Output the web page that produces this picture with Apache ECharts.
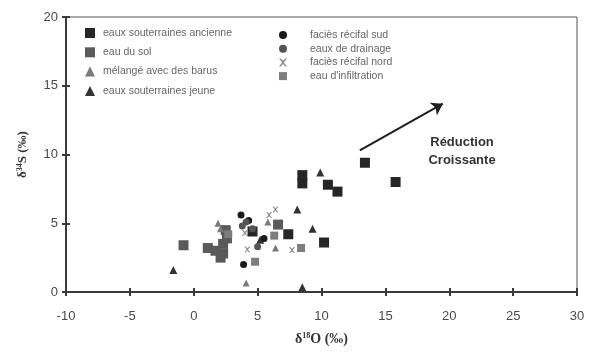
<!DOCTYPE html>
<html><head><meta charset="utf-8">
<script src="https://cdn.jsdelivr.net/npm/echarts@6/dist/echarts.min.js"></script>
<style>html,body{margin:0;padding:0;background:#fff}#c{width:590px;height:356px}</style>
</head><body><div id="c"></div>
<script>
// ---- data ----
const xTicks = [-10, -5, 0, 5, 10, 15, 20, 25, 30];
const yTicks = [0, 5, 10, 15, 20];
const ancienne = [[13.4,9.4],[15.8,8.0],[8.5,8.5],[8.5,7.9],[10.5,7.8],[11.25,7.3],[10.2,3.6],[7.4,4.2],[4.6,4.4]];
const eauSol = [[-0.8,3.4],[1.1,3.2],[1.7,3.0],[2.3,2.8],[2.1,2.5],[2.5,4.5],[2.6,3.9],[2.3,3.5],[6.6,4.9]];
const melange = [[1.9,5.0],[5.8,5.1],[6.4,3.2],[4.1,0.65],[2.1,4.6]];
const jeune = [[-1.6,1.6],[8.1,6.0],[9.3,4.6],[9.9,8.7],[8.5,0.35],[5.2,3.8]];
const recifSud = [[3.9,2.0],[3.7,5.6],[5.5,3.9],[4.3,5.2]];
const drainage = [[4.1,5.1],[5.0,3.3],[4.6,4.6],[3.8,4.8]];
const recifNord = [[4.2,3.1],[7.7,3.05],[6.4,6.0],[5.9,5.6],[4.0,4.3]];
const infiltration = [[6.3,4.1],[2.7,4.2],[4.8,2.2],[8.4,3.2]];
const arrowStart = [13.0, 10.3];
const arrowEnd = [19.5, 13.7];
const annotation = {text: 'Réduction\nCroissante', at: [21.0, 10.25]};
const names = ['eaux souterraines ancienne','eau du sol','mélangé avec des barus','eaux souterraines jeune',
  'faciès récifal sud','eaux de drainage','faciès récifal nord',"eau d'infiltration"];

const X_PATH = 'path://M0,0L2,0L5,3L8,0L10,0L6,5L10,10L8,10L5,7L2,10L0,10L4,5Z';
const chart = echarts.init(document.getElementById('c'));
const axisCol = '#3a3a3a';
const txt = '#4a4a4a';
function sc(name, data, symbol, size, color, extra) {
  return Object.assign({type:'scatter', name, data, symbol, symbolSize:size,
    itemStyle:{color, opacity:1}, z:3}, extra||{});
}
const baseX = {type:'value', min:-10, max:30, interval:5,
  axisLine:{show:true, onZero:false, lineStyle:{color:axisCol, width:2}}, splitLine:{show:false}};
const baseY = {type:'value', min:0, max:20, interval:5,
  axisLine:{show:true, onZero:false, lineStyle:{color:axisCol, width:2}}, splitLine:{show:false}};
const legText = {fontSize:10.5, lineHeight:12, color:'#666', fontFamily:'Liberation Sans'};
chart.setOption({
  animation:false,
  backgroundColor:'#fff',
  grid:{left:66, right:13, top:17, bottom:64, show:true, borderColor:'#555', borderWidth:1},
  xAxis:[
    Object.assign({}, baseX, {position:'bottom',
      axisTick:{show:true, inside:false, length:4, lineStyle:{color:axisCol, width:2}},
      axisLabel:{margin:18, fontSize:13, color:txt, fontFamily:'Liberation Sans'},
      name:'δ{s|18}O (‰)', nameLocation:'middle', nameGap:40,
      nameTextStyle:{fontFamily:'Liberation Serif', fontWeight:'bold', fontSize:14, color:'#333',
        rich:{s:{fontSize:8, fontFamily:'Liberation Serif', fontWeight:'bold', color:'#333', verticalAlign:'top', padding:[0,0,6,0]}}}}),
    Object.assign({}, baseX, {position:'bottom',
      axisTick:{show:true, inside:true, length:4, lineStyle:{color:axisCol, width:2}},
      axisLabel:{show:false}})
  ],
  yAxis:[
    Object.assign({}, baseY, {position:'left',
      axisTick:{show:true, inside:false, length:4, lineStyle:{color:axisCol, width:2}},
      axisLabel:{margin:8, fontSize:13, color:txt, fontFamily:'Liberation Sans'},
      name:'δ{s|34}S (‰)', nameLocation:'middle', nameGap:36, nameRotate:90,
      nameTextStyle:{fontFamily:'Liberation Serif', fontWeight:'bold', fontSize:13, color:'#333',
        rich:{s:{fontSize:8, fontFamily:'Liberation Serif', fontWeight:'bold', color:'#333', verticalAlign:'top', padding:[0,0,6,0]}}}}),
    Object.assign({}, baseY, {position:'left',
      axisTick:{show:true, inside:true, length:4, lineStyle:{color:axisCol, width:2}},
      axisLabel:{show:false}})
  ],
  legend:[
    {data:names.slice(0,4), orient:'vertical', left:80, top:22, itemWidth:10, itemHeight:10, itemGap:7.3,
     textStyle:Object.assign({padding:[0,0,0,3]}, legText)},
    {data:names.slice(4), orient:'vertical', left:274, top:24, itemWidth:8, itemHeight:8, itemGap:1.7,
     textStyle:Object.assign({padding:[0,0,0,18]}, legText)}
  ],
  series:[
    sc(names[0], ancienne, 'rect', 10, '#262626', {z:4,
      markLine:{silent:true, symbol:['none','arrow'], symbolSize:11,
        lineStyle:{color:'#1e1e1e', width:2, type:'solid'}, label:{show:false},
        data:[[{coord:arrowStart},{coord:arrowEnd}]]},
      markPoint:{silent:true, symbol:'circle', symbolSize:0,
        label:{show:true, formatter:annotation.text, fontFamily:'Liberation Sans', fontWeight:'bold', fontSize:13, color:'#333', lineHeight:18, align:'center'},
        data:[{coord:annotation.at, value:0}]}}),
    sc(names[1], eauSol, 'rect', 10, '#5a5a5a'),
    sc(names[2], melange, 'triangle', 7, '#7a7a7a'),
    sc(names[3], jeune, 'triangle', 8, '#333333'),
    sc(names[4], recifSud, 'circle', 7, '#1a1a1a', {z:5}),
    sc(names[5], drainage, 'circle', 7, '#555555', {z:5}),
    sc(names[6], recifNord, X_PATH, 6, '#8a8a8a', {z:5}),
    sc(names[7], infiltration, 'rect', 8, '#7d7d7d')
  ]
});
</script></body></html>
